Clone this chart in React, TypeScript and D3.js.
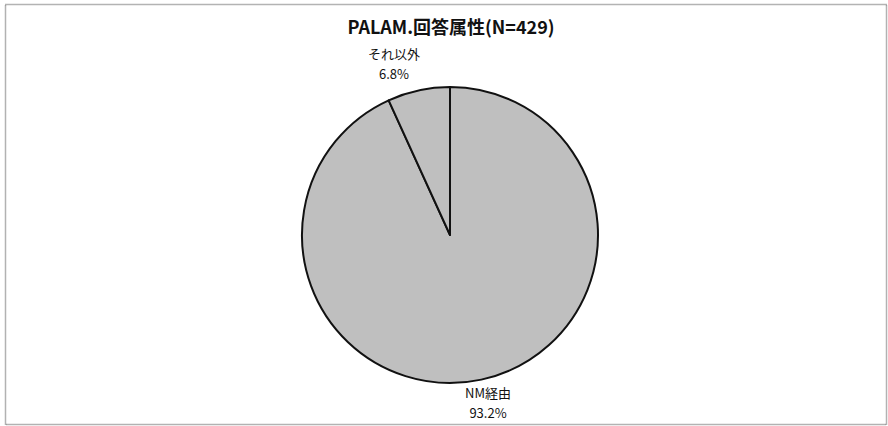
import React from "react";
import * as d3 from "d3";

const title = "PALAM.回答属性(N=429)";
const categories = ["NM経由", "それ以外"];
const values = [93.2, 6.8];
const valueLabels = ["93.2%", "6.8%"];

const W = 888;
const H = 426;
const cx = 450;
const cy = 235;
const R = 148;

export default function App() {
  const pie = d3
    .pie<number>()
    .sort(null)
    .startAngle(0)
    .endAngle(2 * Math.PI)
    .value((d) => d);
  const arcs = pie(values);
  const arc = d3.arc<d3.PieArcDatum<number>>().innerRadius(0).outerRadius(R);
  const labelPos = [
    { x: 488, y1: 398, y2: 418 },
    { x: 394, y1: 59, y2: 79 },
  ];
  const font = "'Noto Sans CJK JP', 'Noto Sans', sans-serif";
  return (
    <svg
      width={W}
      height={H}
      style={{ position: "absolute", left: 0, top: 0, background: "#fff" }}
    >
      <rect
        x={5.5}
        y={4.5}
        width={881}
        height={420}
        fill="#fff"
        stroke="#666"
        strokeWidth={1.5}
        strokeDasharray="1 1"
      />
      <text
        x={451}
        y={34}
        textAnchor="middle"
        fontFamily={font}
        fontWeight="bold"
        fontSize={18}
        fill="#111"
      >
        {title}
      </text>
      <g transform={`translate(${cx},${cy})`}>
        {arcs.map((a, i) => (
          <path
            key={i}
            d={arc(a) || ""}
            fill="#bfbfbf"
            stroke="#111"
            strokeWidth={2}
            strokeLinejoin="round"
          />
        ))}
      </g>
      {categories.map((c, i) => (
        <g key={c} fontFamily={font} fontSize={13} fill="#111" textAnchor="middle">
          <text x={labelPos[i].x} y={labelPos[i].y1}>
            {c}
          </text>
          <text x={labelPos[i].x} y={labelPos[i].y2}>
            {valueLabels[i]}
          </text>
        </g>
      ))}
    </svg>
  );
}
